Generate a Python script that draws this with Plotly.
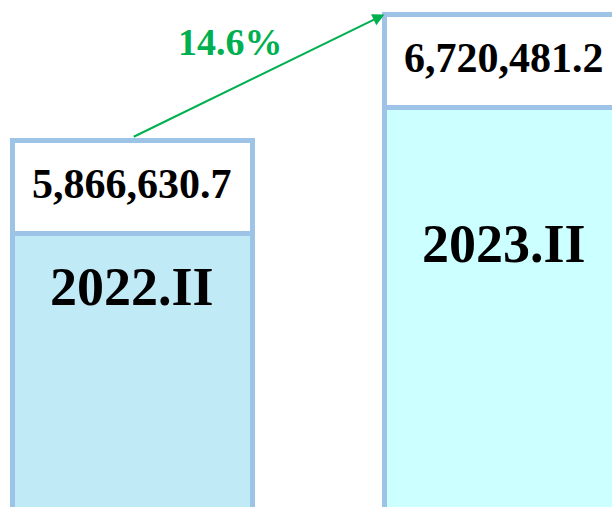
import plotly.graph_objects as go

# ---- data ----
periods = ["2022.II", "2023.II"]
values = [5866630.7, 6720481.2]
growth_label = "14.6%"

# ---- styles ----
W, H = 612, 507
border = "#9DC3E6"
body_colors = ["#BFEAF6", "#CCFFFF"]
green = "#00B050"
font_family = "Liberation Serif, Times New Roman, serif"

# pixel geometry -> axis scale
top_px = [140.5, 14.5]
scale = (values[1] - values[0]) / (top_px[0] - top_px[1])
ymax = values[1] + top_px[1] * scale
ymin = ymax - H * scale
box = 93 * scale

bar_w = 0.644
cat_px = 372.0
x0_px = 132.25
xmin = -x0_px / cat_px
xmax = (W - x0_px) / cat_px

xs = [0, 1]

fig = go.Figure()
fig.add_trace(go.Bar(
    x=xs, y=[v - box for v in values], width=bar_w,
    marker=dict(color=body_colors, line=dict(color=border, width=5)),
    hoverinfo="skip",
))
fig.add_trace(go.Bar(
    x=xs, y=[box, box], width=bar_w,
    marker=dict(color="white", line=dict(color=border, width=5)),
    hoverinfo="skip",
))

# value labels in the white boxes
for i, v in enumerate(values):
    fig.add_annotation(
        x=xs[i], y=v - box / 2 + 3 * scale, xref="x", yref="y",
        xanchor="center", yanchor="middle",
        text=f"<b>{v:,.1f}</b>", showarrow=False,
        font=dict(family=font_family, size=42, color="black"),
    )

# period labels inside bars
label_y = [1 - 287 / H, 1 - 244 / H]
for i, p in enumerate(periods):
    fig.add_annotation(
        x=xs[i], y=label_y[i], xref="x", yref="paper",
        xanchor="center", yanchor="middle",
        text=f"<b>{p}</b>", showarrow=False,
        font=dict(family=font_family, size=54, color="black"),
    )

# growth arrow
fig.add_annotation(
    x=xs[1] - bar_w / 2, y=values[1], xref="x", yref="y",
    ax=xs[0], ay=values[0] + 3 * scale, axref="x", ayref="y",
    showarrow=True, arrowhead=2, arrowsize=1.2, arrowwidth=2,
    arrowcolor=green, text="",
)
fig.add_annotation(
    x=230 / W, y=1 - 42 / H, xref="paper", yref="paper",
    xanchor="center", yanchor="middle",
    text=f"<b>{growth_label}</b>", showarrow=False,
    font=dict(family=font_family, size=38, color=green),
)

fig.update_layout(
    width=W, height=H,
    margin=dict(l=0, r=0, t=0, b=0),
    barmode="stack", showlegend=False,
    plot_bgcolor="white", paper_bgcolor="white",
    xaxis=dict(range=[xmin, xmax], visible=False),
    yaxis=dict(range=[ymin, ymax], visible=False),
)

fig.write_html(
    "out.html",
    config={"displayModeBar": False, "staticPlot": True},
    post_script="document.body.style.margin='0';document.body.style.overflow='hidden';",
)
